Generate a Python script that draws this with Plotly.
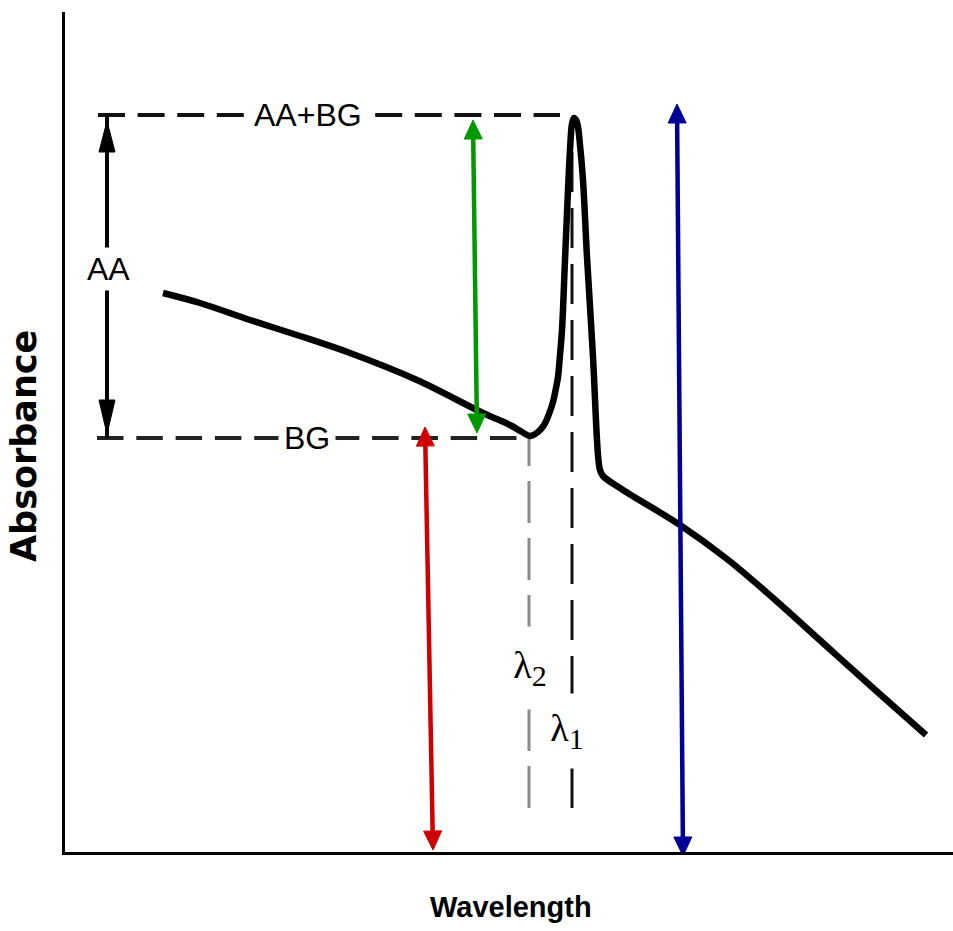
import plotly.graph_objects as go

# ---------------- data (arbitrary units; 1 unit ~ 1 px) ----------------
wavelength = [98, 135, 185, 235, 285, 352, 418, 445, 457, 465, 473, 479, 484, 488,
              491, 493, 495, 497, 500, 503, 505, 507, 509, 511, 513, 515, 518, 522,
              528, 533, 535, 538, 558, 615, 662, 708, 758, 808, 861]
absorbance = [559, 549, 532, 516, 499, 472, 439, 427, 420, 416, 420, 427, 438, 450,
              464, 475, 497, 522, 592, 662, 702, 728, 734, 732, 725, 707, 672, 595,
              495, 397, 382, 376, 362, 327, 293, 254, 209, 164, 117]

AA_BG_LEVEL = 737      # peak level (AA + BG)
BG_LEVEL = 414         # background level
LAMBDA_1 = 507         # analytical line wavelength
LAMBDA_2 = 464         # background correction wavelength
X_MAX, Y_MAX = 888, 840

level_labels = ["AA+BG", "BG", "AA"]
lambda_labels = ["λ<sub><span style='font-size:30px'>1</span></sub>",
                 "λ<sub><span style='font-size:30px'>2</span></sub>"]

# coloured double arrows: (x_top, y_top, x_bottom, y_bottom, colour)
colour_arrows = [
    (408, AA_BG_LEVEL - 5, 412, BG_LEVEL + 5, "#009a00"),
    (360, BG_LEVEL + 11, 368, 2, "#d00000"),
    (612, AA_BG_LEVEL + 11, 618, -4, "#000096"),
]

# ---------------- figure ----------------
fig = go.Figure()

def add_head(tip_x, tip_y, dir_x, dir_y, length, width, colour):
    n = (dir_x ** 2 + dir_y ** 2) ** 0.5
    ux, uy = dir_x / n, dir_y / n
    bx, by = tip_x - ux * length, tip_y - uy * length
    px, py = -uy * width / 2, ux * width / 2
    fig.add_trace(go.Scatter(
        x=[tip_x, bx + px, bx - px, tip_x], y=[tip_y, by + py, by - py, tip_y],
        mode="lines", fill="toself", fillcolor=colour,
        line=dict(color=colour, width=1), hoverinfo="skip", showlegend=False))
    return bx, by

def add_double_arrow(x0, y0, x1, y1, colour, lw, hl, hw):
    b0 = add_head(x0, y0, x0 - x1, y0 - y1, hl, hw, colour)
    b1 = add_head(x1, y1, x1 - x0, y1 - y0, hl, hw, colour)
    fig.add_trace(go.Scatter(x=[b0[0], b1[0]], y=[b0[1], b1[1]], mode="lines",
                             line=dict(color=colour, width=lw),
                             hoverinfo="skip", showlegend=False))

# horizontal dashed reference lines
fig.add_trace(go.Scatter(x=[33, LAMBDA_1 - 12], y=[AA_BG_LEVEL, AA_BG_LEVEL], mode="lines",
                         line=dict(color="#111111", width=4, dash="27px,12.6px"),
                         hoverinfo="skip", showlegend=False))
fig.add_trace(go.Scatter(x=[32, LAMBDA_2], y=[BG_LEVEL, BG_LEVEL], mode="lines",
                         line=dict(color="#222222", width=4, dash="26.5px,12.8px"),
                         hoverinfo="skip", showlegend=False))

# vertical dashed wavelength markers (drawn from bottom up)
fig.add_trace(go.Scatter(x=[LAMBDA_2, LAMBDA_2], y=[44, BG_LEVEL], mode="lines",
                         line=dict(color="#8a8a8a", width=3, dash="42px,15px"),
                         hoverinfo="skip", showlegend=False))
fig.add_trace(go.Scatter(x=[LAMBDA_1, LAMBDA_1], y=[44, AA_BG_LEVEL - 20], mode="lines",
                         line=dict(color="#111111", width=3, dash="40px,16px"),
                         hoverinfo="skip", showlegend=False))

# AA arrow (black)
ax_x = 42
fig.add_trace(go.Scatter(x=[ax_x, ax_x], y=[AA_BG_LEVEL, BG_LEVEL], mode="lines",
                         line=dict(color="black", width=4),
                         hoverinfo="skip", showlegend=False))
add_head(ax_x, AA_BG_LEVEL - 6, 0, 1, 31, 16, "black")
add_head(ax_x, BG_LEVEL + 4, 0, -1, 34, 16, "black")

# spectrum
fig.add_trace(go.Scatter(x=wavelength, y=absorbance, mode="lines",
                         line=dict(color="black", width=6.5, shape="spline", smoothing=1.0),
                         hoverinfo="skip", showlegend=False))

# coloured arrows
for x0, y0, x1, y1, c in colour_arrows:
    add_double_arrow(x0, y0, x1, y1, c, 4.5, 19, 18)

sans = "Liberation Sans, Arial, sans-serif"
serif = "Liberation Serif, Times New Roman, serif"

annotations = [
    dict(x=243, y=AA_BG_LEVEL, text=level_labels[0], font=dict(family=sans, size=32, color="black"),
         bgcolor="white", borderpad=8),
    dict(x=242, y=BG_LEVEL, text=level_labels[1], font=dict(family=sans, size=32, color="black"),
         bgcolor="white", borderpad=5),
    dict(x=ax_x + 1, y=583, text=level_labels[2], font=dict(family=sans, size=32, color="black"),
         bgcolor="white", borderpad=3),
    # lambda 2 (white box interrupts the dashed marker line)
    dict(x=LAMBDA_2 + 1, y=184, text=lambda_labels[1], font=dict(family=serif, size=38, color="black"),
         bgcolor="white", height=80, width=40),
    # lambda 1
    dict(x=LAMBDA_1 - 5, y=121, text=lambda_labels[0], font=dict(family=serif, size=38, color="black"),
         bgcolor="white", height=72, width=40),
]
for a in annotations:
    a.update(xref="x", yref="y", showarrow=False, xanchor="center", yanchor="middle")

annotations += [
    dict(x=(24 - 65) / X_MAX, y=(852 - 446) / Y_MAX, xref="paper", yref="paper", showarrow=False,
         xanchor="center", yanchor="middle",
         text="Absorbance", textangle=-90,
         font=dict(family="DejaVu Sans, Liberation Sans, sans-serif", size=35, color="black", weight="bold")),
    dict(x=(511 - 65) / X_MAX, y=(852 - 907) / Y_MAX, xref="paper", yref="paper", showarrow=False,
         xanchor="center", yanchor="middle",
         text="Wavelength",
         font=dict(family=sans, size=29, color="black", weight="bold")),
]

fig.update_layout(
    width=953, height=931,
    margin=dict(l=65, r=0, t=12, b=79),
    plot_bgcolor="white", paper_bgcolor="white",
    showlegend=False,
    annotations=annotations,
    xaxis=dict(range=[0, X_MAX], showgrid=False, zeroline=False, showticklabels=False,
               ticks="", showline=True, linecolor="black", linewidth=2.5, fixedrange=True),
    yaxis=dict(range=[0, Y_MAX], showgrid=False, zeroline=False, showticklabels=False,
               ticks="", showline=True, linecolor="black", linewidth=2.5, fixedrange=True),
)

fig.write_html("out.html", config={"displayModeBar": False},
               post_script="document.body.style.margin='0px';document.body.style.overflow='hidden';")
